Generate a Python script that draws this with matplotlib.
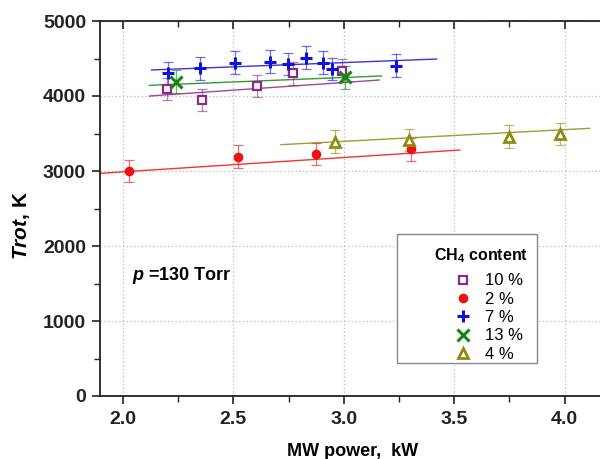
import matplotlib
matplotlib.use("Agg")
import matplotlib.pyplot as plt
from matplotlib.ticker import MultipleLocator
from matplotlib.patches import Rectangle

plt.rcParams['font.family'] = ['Liberation Sans', 'DejaVu Sans']
plt.rcParams['mathtext.fontset'] = 'custom'
plt.rcParams['mathtext.rm'] = 'Liberation Sans'
plt.rcParams['mathtext.it'] = 'Liberation Sans:italic'
plt.rcParams['mathtext.bf'] = 'Liberation Sans:bold'
plt.rcParams['mathtext.bfit'] = 'Liberation Sans:italic:bold'

# Data
x_10 = [2.198, 2.359, 2.608, 2.768, 2.990]
y_10 = [4093, 3947, 4133, 4302, 4338]
x_2 = [2.029, 2.519, 2.876, 3.306]
y_2 = [3000, 3191, 3227, 3289]
x_7 = [2.205, 2.348, 2.507, 2.668, 2.748, 2.828, 2.906, 2.947, 3.238]
y_7 = [4302, 4369, 4444, 4458, 4427, 4511, 4444, 4360, 4404]
x_13 = [2.240, 3.005]
y_13 = [4191, 4249]
x_4 = [2.959, 3.296, 3.748, 3.977]
y_4 = [3391, 3413, 3458, 3493]
err = 150

# fit line ranges
fit_10 = ([2.12, 3.16], [4000, 4213])
fit_2 = ([1.896, 3.525], [2969, 3280])
fit_7 = ([2.13, 3.42], [4347, 4493])
fit_13 = ([2.12, 3.17], [4142, 4267])
fit_4 = ([2.715, 4.113], [3351, 3569])

W, H = 600, 459
fig = plt.figure(figsize=(6, 4.59), dpi=100)
ax = fig.add_axes([100/W, 1-396/H, 1-100/W, (396-21)/H])

series = [
    ("10 %", x_10, y_10, fit_10, '#8B2A8B', 's', dict(mfc='white', mew=1.6, ms=5.5)),
    ("2 %", x_2, y_2, fit_2, '#EE1111', 'o', dict(mfc='#EE1111', mew=0, ms=7)),
    ("7 %", x_7, y_7, fit_7, '#1111DD', '+', dict(mew=2.2, ms=9)),
    ("13 %", x_13, y_13, fit_13, '#118811', 'x', dict(mew=2.2, ms=8)),
    ("4 %", x_4, y_4, fit_4, '#8C8C10', '^', dict(mfc='white', mew=2, ms=7)),
]
handles = []
for lab, xs, ys, fit, c, m, kw in series:
    ax.plot(fit[0], fit[1], '-', color=c, lw=1.0, alpha=0.85, zorder=2)
    ax.errorbar(xs, ys, yerr=err, fmt='none', ecolor=c, elinewidth=0.9,
                capsize=3.5, capthick=0.9, alpha=0.6, zorder=3)
    h, = ax.plot(xs, ys, linestyle='none', marker=m, color=c, mec=c, zorder=4, label=lab, **kw)
    handles.append(h)

ax.set_xlim(1.896, 4.16)
ax.set_ylim(0, 5000)
ax.xaxis.set_minor_locator(MultipleLocator(0.25))
ax.yaxis.set_major_locator(MultipleLocator(1000))
ax.yaxis.set_minor_locator(MultipleLocator(500))
ax.set_xticks([2.0, 2.5, 3.0, 3.5, 4.0])
ax.set_xticklabels(['2.0', '2.5', '3.0', '3.5', '4.0'])
ax.grid(True, which='major', linestyle=(0, (1, 2)), color='#BBBBBB', lw=0.9)
ax.set_axisbelow(True)

ax.spines['right'].set_visible(False)
for s in ['left', 'bottom', 'top']:
    ax.spines[s].set_linewidth(1.3)
    ax.spines[s].set_color('#222222')

ax.tick_params(axis='both', which='major', labelsize=14, width=1.2, length=6, direction='out', colors='#222222')
ax.tick_params(axis='both', which='minor', width=1.0, length=4, direction='out', colors='#222222')
ax.tick_params(axis='x', top=True, which='both')
ax.tick_params(axis='x', which='major', pad=5)
ax.tick_params(axis='y', which='major', pad=4)
ax.tick_params(axis='y', right=False, which='both')
for t in ax.get_xticklabels() + ax.get_yticklabels():
    t.set_fontweight('bold')
for tk in ax.xaxis.get_major_ticks() + ax.xaxis.get_minor_ticks():
    tk.tick2line.set_marker(3)  # inward on top

fig.text(353/W, 1-452/H, 'MW power,  kW', fontsize=13, fontweight='bold',
         ha='center', va='center')
fig.text(22/W, 1-225/H, r'$\mathbfit{Trot}$, K', fontsize=15, fontweight='bold',
         ha='center', va='center', rotation=90)

ax.text((132-100)/500, (396-275)/375, r'$\mathbfit{p}$ =130 Torr', fontsize=13,
        fontweight='bold', transform=ax.transAxes, va='center', ha='left')

# legend frame
ax.add_patch(Rectangle(((397-100)/500, (396-363)/375), 140/500, 129/375,
                       transform=ax.transAxes, facecolor='white',
                       edgecolor='#888888', lw=1.0, zorder=5))
ax.text((528-100)/500, (396-256)/375, r'$\mathbf{CH}_\mathbf{4}$ content',
        fontsize=11.5, fontweight='bold', transform=ax.transAxes,
        ha='right', va='center', zorder=7)
leg = ax.legend(handles=handles, loc='upper right',
                bbox_to_anchor=((531-100)/500, (396-265)/375), fontsize=12,
                frameon=False, handletextpad=0.7, labelspacing=0.2, borderpad=0,
                handlelength=1.2)
leg.set_zorder(6)

fig.savefig('out.png', dpi=100)
